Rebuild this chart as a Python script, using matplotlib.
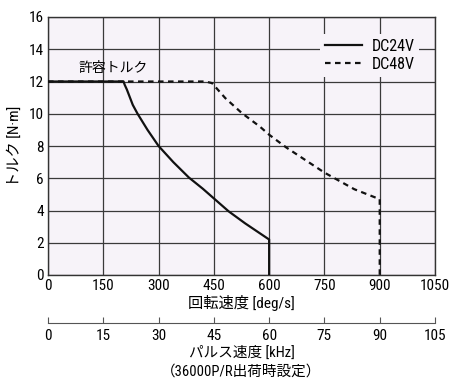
import matplotlib
matplotlib.use("Agg")
import matplotlib.pyplot as plt
from matplotlib import font_manager

fams = set(f.name for f in font_manager.fontManager.ttflist)
narrow = [n for n in ['Liberation Sans Narrow', 'Roboto Condensed', 'Open Sans Condensed',
                      'Noto Sans Condensed', 'DejaVu Sans Condensed'] if n in fams]
plt.rcParams['font.family'] = narrow[:1] + ['Noto Sans CJK JP', 'DejaVu Sans']

# data
dc24_speed = [0, 205, 208, 214, 230, 243, 270, 300, 340, 382, 420, 450, 490, 535, 600, 600]
dc24_torque = [12, 12, 11.8, 11.5, 10.55, 10, 9.0, 8.0, 7.0, 6.05, 5.35, 4.75, 3.95, 3.2, 2.2, 0]
dc48_speed = [0, 427, 445, 481, 526, 575, 600, 647, 750, 831, 900, 900]
dc48_torque = [12, 12, 11.9, 10.97, 10.04, 9.2, 8.7, 7.9, 6.35, 5.32, 4.7, 0]
x_ticks = [0, 150, 300, 450, 600, 750, 900, 1050]
y_ticks = [0, 2, 4, 6, 8, 10, 12, 14, 16]
pulse_ticks = [0, 15, 30, 45, 60, 75, 90, 105]

BG = '#f7f3f9'
fig = plt.figure(figsize=(4.52, 3.83), dpi=100)
fig.patch.set_facecolor('white')
ax = fig.add_axes([48/452, 1-275/383, (435-48)/452, (275-17)/383])
ax.set_facecolor(BG)

ax.plot(dc24_speed, dc24_torque, color='#111111', lw=1.6, label='DC24V', zorder=3)
ax.plot(dc48_speed, dc48_torque, color='#111111', lw=1.6, ls=(0, (2.5, 2)), label='DC48V', zorder=3)

ax.set_xlim(0, 1050)
ax.set_ylim(0, 16)
ax.set_xticks(x_ticks)
ax.set_yticks(y_ticks)
ax.grid(True, color='#3a3a3a', lw=0.9)
ax.set_axisbelow(True)
ax.tick_params(length=0, labelsize=11, pad=3)
for s in ax.spines.values():
    s.set_color('#333333')
    s.set_linewidth(1.0)

ax.set_xlabel('回転速度 [deg/s]', fontsize=11, labelpad=1)
ax.set_ylabel('トルク [N·m]', fontsize=11)
ax.yaxis.set_label_coords(-0.068, 0.5)
ax.text(82, 12.85, '許容トルク', fontsize=10, va='center', ha='left')

leg = ax.legend(loc='upper right', bbox_to_anchor=(0.98, 0.965), frameon=True,
                fontsize=11.5, handlelength=2.3, handletextpad=0.6,
                borderpad=0.3, labelspacing=0.2, fancybox=False)
leg.get_frame().set_facecolor(BG)
leg.get_frame().set_edgecolor('none')
leg.get_frame().set_alpha(1)

sec = ax.secondary_xaxis((275-323)/258, functions=(lambda x: x/10, lambda x: x*10))
sec.set_xticks(pulse_ticks)
sec.tick_params(direction='in', length=4, labelsize=11, color='#555555', pad=4)
sec.spines['bottom'].set_color('#555555')
sec.set_xlabel('パルス速度 [kHz]\n（36000P/R出荷時設定）', fontsize=10.5, labelpad=2, linespacing=1.45)

fig.savefig('out.png', dpi=100)
